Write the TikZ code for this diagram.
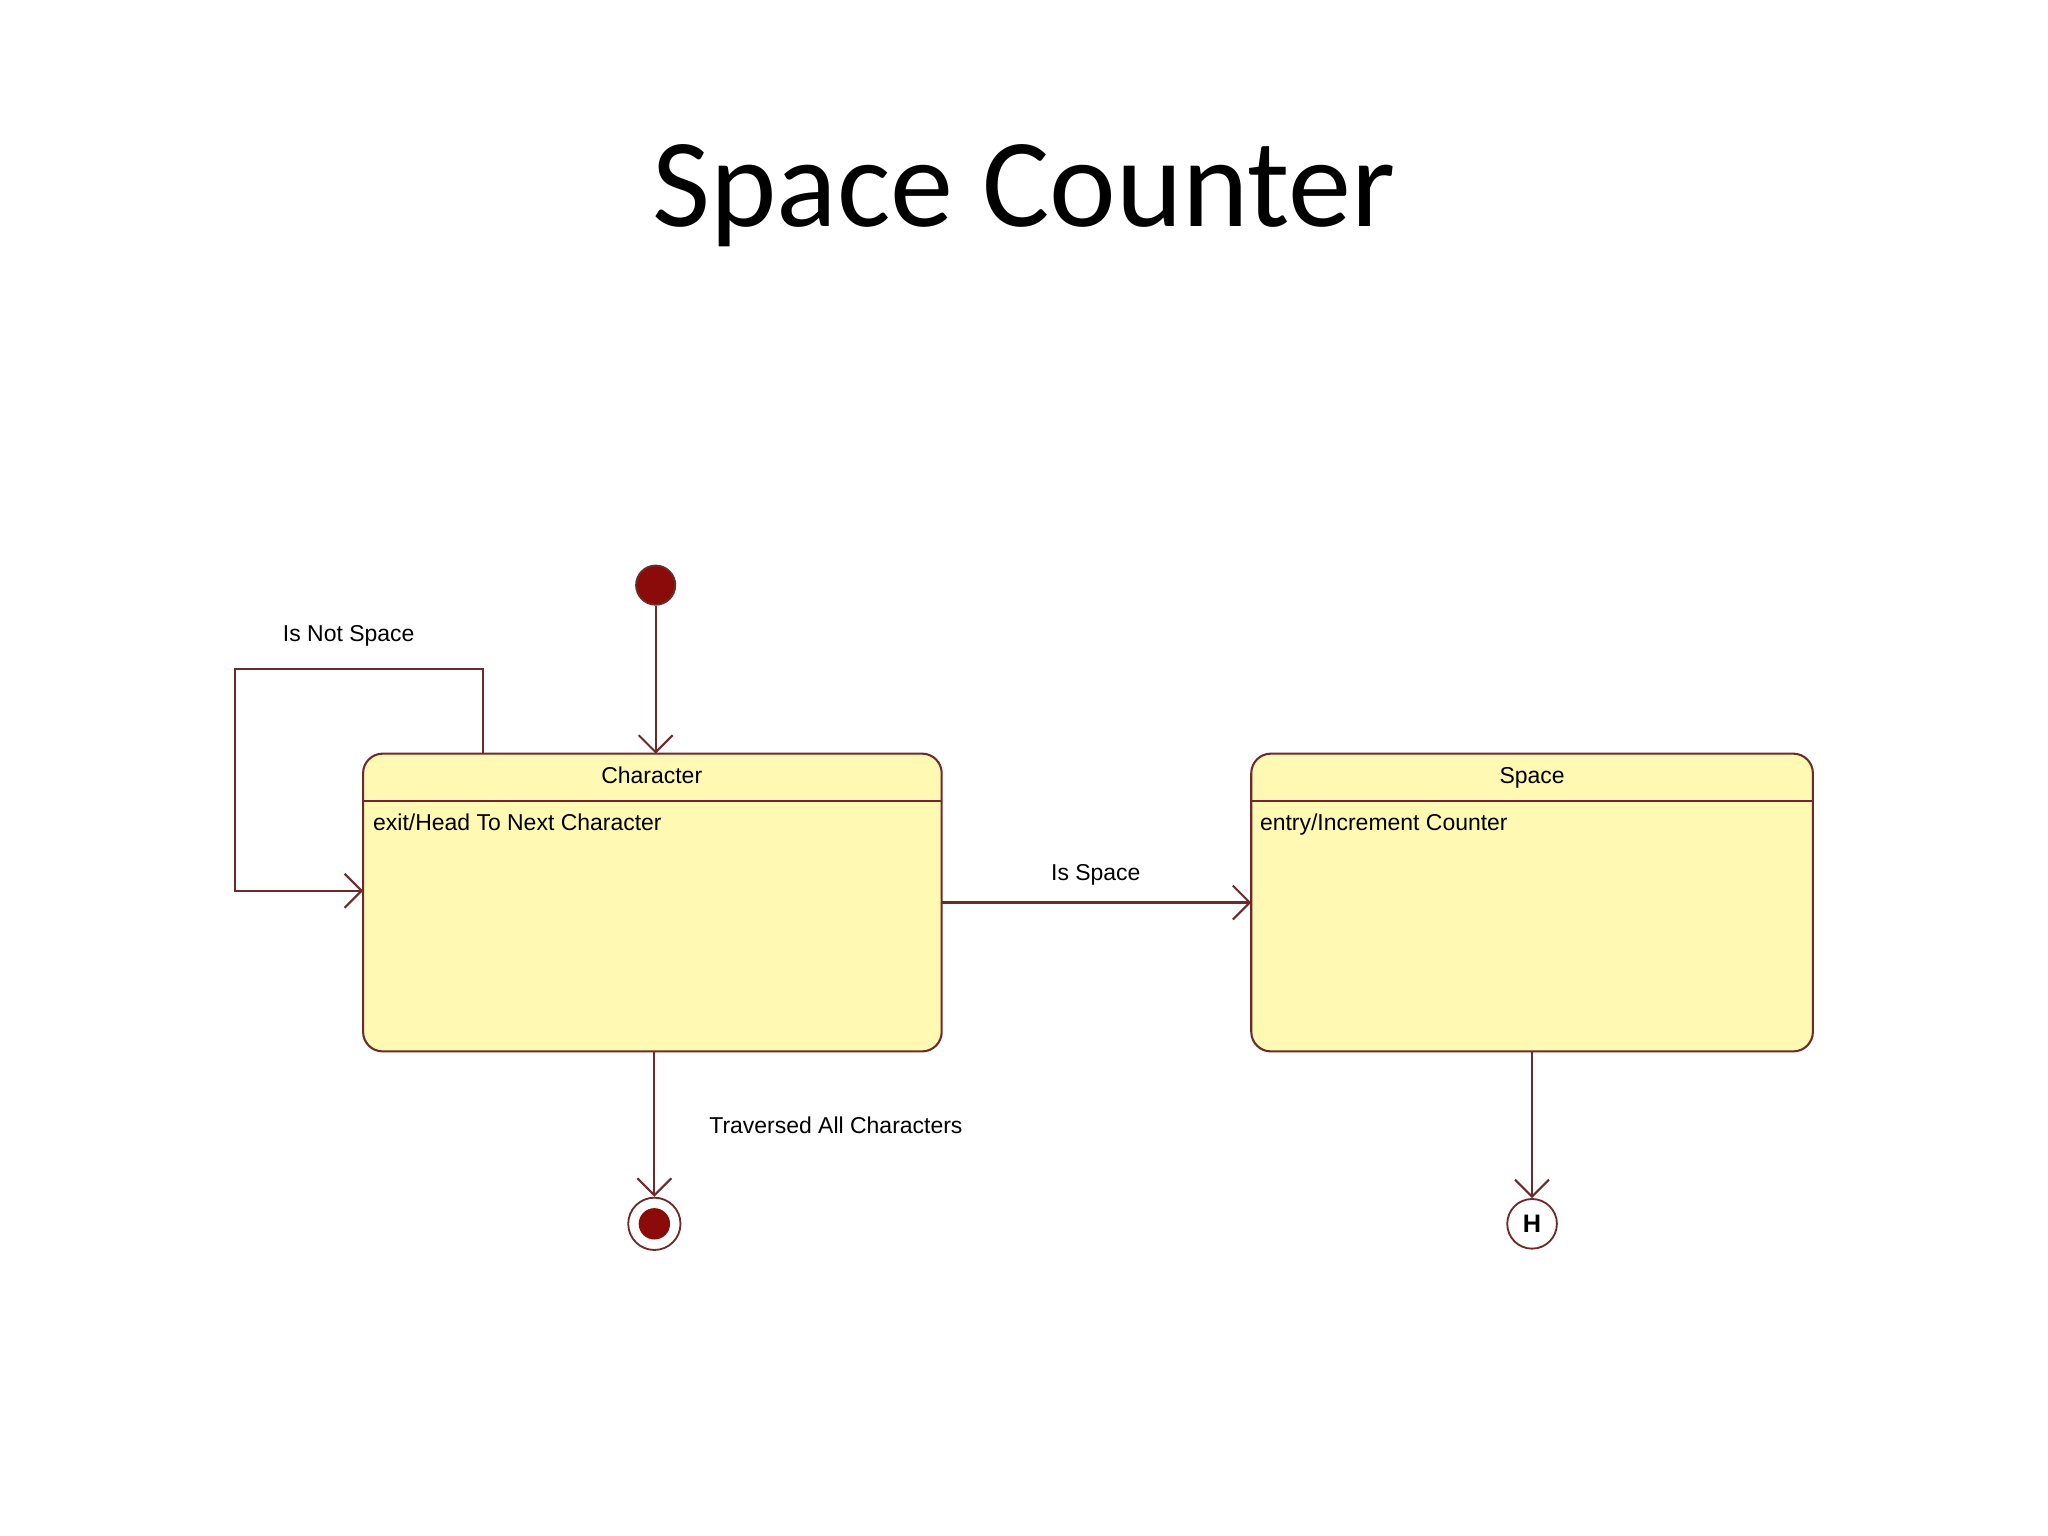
\documentclass[tikz,border=0pt]{standalone}
\usepackage{fontspec}
\setmainfont{Liberation Sans}
\newfontfamily\titlefont{Carlito}
\usetikzlibrary{arrows.meta}
\definecolor{edge}{HTML}{6E2A2A}
\definecolor{boxfill}{HTML}{FFF9B4}
\definecolor{dot}{HTML}{8B0A0A}
\tikzset{
  px/.style={x=0.01cm,y=-0.01cm},
  state/.style={draw=edge,fill=boxfill,rounded corners=0.15cm,line width=0.45pt},
  conn/.style={draw=edge,line width=0.45pt,-{Straight Barb[length=1.3mm,width=2.6mm]}},
  lbl/.style={font=\fontsize{5pt}{6pt}\selectfont,inner sep=0pt,anchor=base},
  lblw/.style={lbl,anchor=base west}
}
\begin{document}
\begin{tikzpicture}[px]
\useasboundingbox (0,0) rectangle (1568,1176);
\fill[white] (0,0) rectangle (1568,1176);
\node[font=\titlefont\fontsize{27.5pt}{33pt}\selectfont] (title) at (784,150) {Space Counter};
% states
\draw[state] (278,577) rectangle (721,805);
\draw[edge,line width=0.45pt] (278,613) -- (721,613);
\node[lbl] (charname) at (499,600) {Character};
\node[lblw] (charact) at (285,636) {exit/Head To Next Character};
\coordinate (chartop) at (502,577);
\coordinate (charbot) at (501,805);
\coordinate (charright) at (721,691);
\coordinate (charleft) at (278,682);
\coordinate (loopstart) at (370,577);
\draw[state] (958,577) rectangle (1388,805);
\draw[edge,line width=0.45pt] (958,613) -- (1388,613);
\node[lbl] (spacename) at (1173,600) {Space};
\node[lblw] (spaceact) at (964,636) {entry/Increment Counter};
\coordinate (spaceleft) at (958,691);
\coordinate (spacebot) at (1173,805);
% pseudo states
\node[circle,fill=dot,draw=edge,minimum size=0.3cm,inner sep=0pt] (init) at (502,448) {};
\node[circle,draw=edge,fill=white,minimum size=0.4cm,inner sep=0pt] (final) at (501,937) {};
\fill[dot] (final.center) circle (0.12cm);
\node[circle,draw=edge,fill=white,minimum size=0.38cm,inner sep=0pt,font=\fontsize{5.5pt}{6pt}\selectfont\bfseries] (hist) at (1173,937) {H};
% connectors
\draw[conn] (init) -- (chartop);
\draw[conn] (loopstart) -- (370,512) -- (180,512) -- (180,682) -- (charleft);
\node[lbl] (l1) at (267,491) {Is Not Space};
\draw[conn] (charright) -- (spaceleft);
\node[lbl] (l2) at (839,674) {Is Space};
\draw[conn] (charbot) -- (final);
\node[lbl] (l3) at (640,868) {Traversed All Characters};
\draw[conn] (spacebot) -- (hist);
\end{tikzpicture}
\end{document}
